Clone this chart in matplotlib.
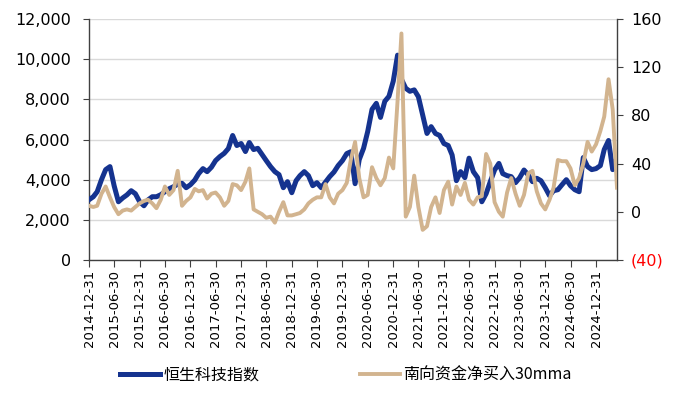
import pandas as pd
import matplotlib
matplotlib.use('Agg')
import matplotlib.pyplot as plt
from matplotlib.ticker import FuncFormatter

# month-end points, Dec 2014 .. May 2025
months = pd.date_range('2014-12-31', periods=126, freq='ME')

# 恒生科技指数 (left axis)
hstech = [3000, 3150, 3400, 4000, 4500, 4650, 3700, 2900, 3090, 3240,
          3450, 3300, 2900, 2700, 2990, 3150, 3150, 3250, 3400, 3550,
          3650, 3780, 3820, 3600, 3750, 3980, 4300, 4550, 4400, 4620,
          4950, 5150, 5310, 5550, 6200, 5700, 5800, 5400, 5850, 5500,
          5560, 5250, 4950, 4650, 4400, 4250, 3600, 3900, 3350, 3950,
          4200, 4400, 4200, 3700, 3850, 3600, 3880, 4150, 4380, 4700,
          4950, 5300, 5390, 3800, 5000, 5560, 6400, 7500, 7800, 7100,
          7900, 8150, 8900, 10200, 9000, 8550, 8400, 8470, 8130, 7220,
          6300, 6640, 6300, 6200, 5800, 5700, 5230, 3950, 4400, 4100,
          5070, 4400, 4100, 2900, 3300, 3900, 4480, 4810, 4300, 4200,
          4150, 3850, 4100, 4480, 4230, 3900, 4070, 3950, 3600, 3200,
          3450, 3500, 3750, 4000, 3700, 3500, 3400, 5100, 4650, 4500,
          4550, 4700, 5500, 5950, 4500, 5100]

# 南向资金净买入30mma (right axis)
southbound = [5, 4, 5, 15, 21, 12, 4, -2, 1, 2,
              1, 4, 7, 9, 10, 7, 3, 10, 21, 14,
              18, 34, 5, 9, 12, 19, 17, 18, 11, 15,
              16, 12, 5, 9, 23, 22, 18, 25, 36, 2,
              0, -2, -5, -4, -9, 0, 8, -3, -3, -2,
              -1, 2, 7, 10, 12, 12, 23, 12, 7, 15,
              18, 24, 43, 58, 28, 12, 14, 37, 28, 22,
              28, 45, 36, 92, 148, -4, 4, 30, 4, -15,
              -12, 4, 12, -1, 18, 25, 6, 21, 14, 24,
              10, 6, 12, 13, 48, 40, 8, 0, -4, 16,
              28, 15, 5, 14, 32, 34, 17, 7, 2, 10,
              20, 43, 42, 42, 36, 22, 28, 40, 58, 50,
              56, 67, 79, 110, 85, 20]

tick_dates = pd.date_range('2014-12-31', '2024-12-31', freq='6ME')
left_ticks = [0, 2000, 4000, 6000, 8000, 10000, 12000]
right_ticks = [-40, 0, 40, 80, 120, 160]

blue = '#15338f'
tan = '#d2b48f'
spine_c = '#404040'

fig = plt.figure(figsize=(6.75, 3.98), dpi=100)
ax = fig.add_axes([89 / 675, 1 - 260 / 398, (617 - 89) / 675, (260 - 19) / 398])
ax2 = ax.twinx()

l1, = ax.plot(months, hstech, color=blue, lw=3.6, solid_joinstyle='round', zorder=3)
l2, = ax2.plot(months, southbound, color=tan, lw=2.8, solid_joinstyle='round', zorder=3)

ax.set_xlim(months[0], months[-1])
ax.set_ylim(0, 12000)
ax.set_yticks(left_ticks)
ax.yaxis.set_major_formatter(FuncFormatter(lambda v, p: f'{int(v):,}'))
ax.yaxis.grid(True, color='#d9d9d9', lw=1)
ax.set_axisbelow(True)

ax2.set_ylim(-40, 160)
ax2.set_yticks(right_ticks)
ax2.set_yticklabels([f'({abs(v)})' if v < 0 else str(v) for v in right_ticks])
ax2.get_yticklabels()[0].set_color('#ff0000')

ax.set_xticks(tick_dates)
ax.set_xticklabels([d.strftime('%Y-%m-%d') for d in tick_dates], rotation=90, fontsize=9.5)

for a in (ax, ax2):
    a.spines['top'].set_visible(False)
    for s in ('left', 'right', 'bottom'):
        a.spines[s].set_color(spine_c)
        a.spines[s].set_linewidth(1)
ax.spines['right'].set_visible(False)
ax2.spines['left'].set_visible(False)
ax2.spines['bottom'].set_visible(False)

ax.tick_params(axis='y', direction='out', length=4, color=spine_c, labelsize=11.5, pad=9)
ax.tick_params(axis='x', direction='out', length=5, color=spine_c, pad=2)
ax2.tick_params(axis='y', direction='out', length=4, color=spine_c, labelsize=11.5, pad=6)

fig.legend([l1, l2], ['恒生科技指数', '南向资金净买入30mma'], loc='center',
           bbox_to_anchor=(0.512, 0.057), ncol=2, frameon=False, handlelength=2.5,
           handletextpad=0.2, columnspacing=6.3,
           prop={'family': ['Noto Sans CJK SC', 'DejaVu Sans'], 'size': 11.5})

fig.savefig('out.png', dpi=100)
